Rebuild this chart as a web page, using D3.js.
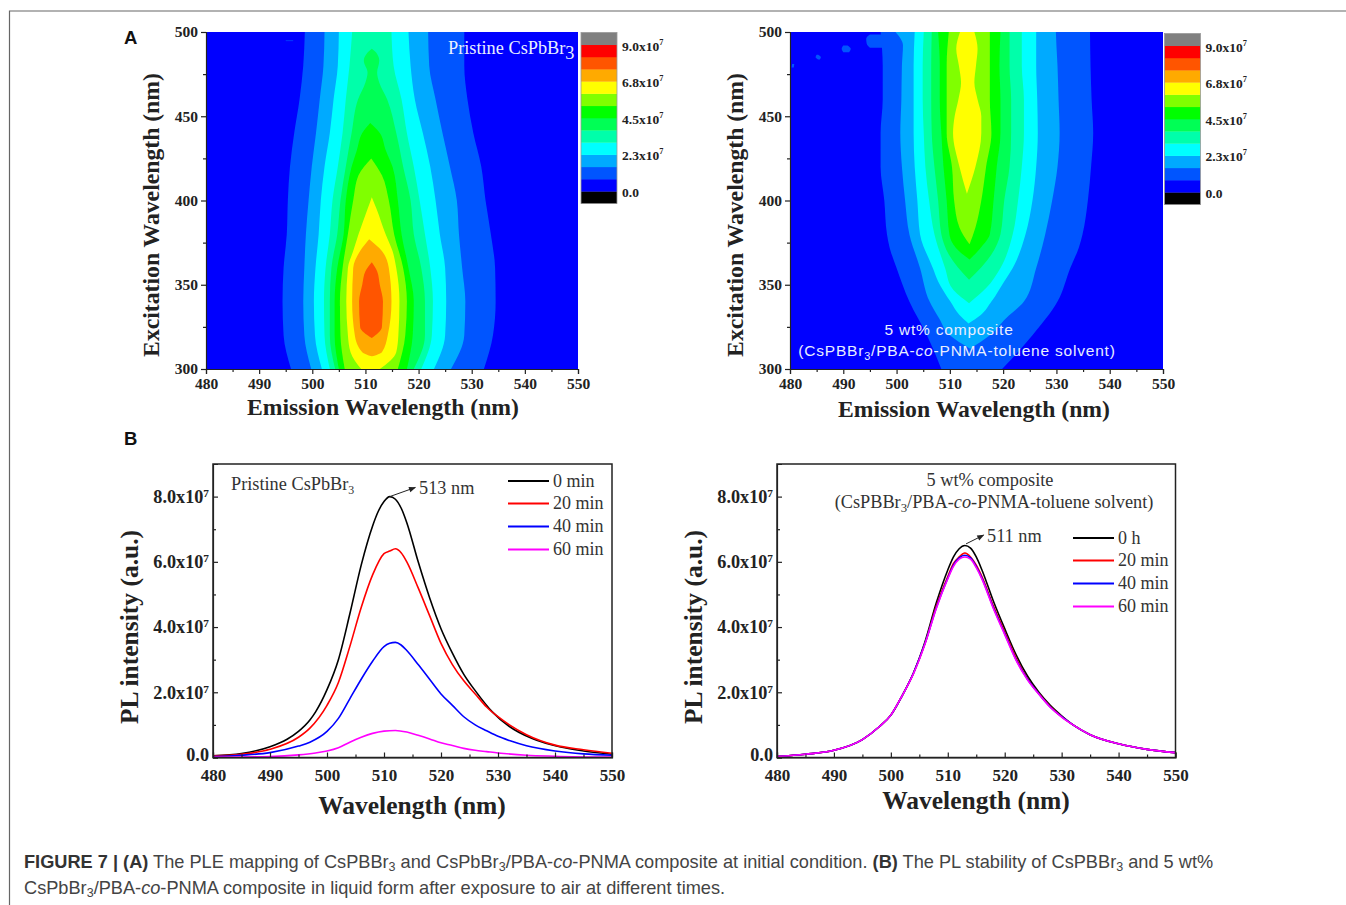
<!DOCTYPE html>
<html>
<head>
<meta charset="utf-8">
<script src="https://cdn.jsdelivr.net/npm/d3@7"></script>
<style>
  html, body { margin: 0; padding: 0; background: #fff; }
  svg { display: block; }
  text { font-family: "Liberation Serif", serif; fill: #222; }
  .tick text { font-weight: bold; fill: #222; }
  .map .tick text { font-size: 15.5px; }
  .spectra .tick text { font-size: 17px; }
  .spectra .y-axis .tick text { font-size: 18.2px; }
  .tick line { stroke: #222; stroke-width: 1.2; }
  .axis-title { font-weight: bold; }
  .map .axis-title { font-size: 23.7px; }
  .spectra .axis-title { font-size: 25.5px; }
  .note { font-size: 18.3px; fill: #333; }
  .legend { font-size: 18px; fill: #333; }
  .bar-label { font-weight: bold; font-size: 13.5px; }
  .caption { font-family: "Liberation Sans", sans-serif; font-size: 18.2px; fill: #444; }
  .caption .strong { font-weight: bold; fill: #333; }
  .panel-letter { font-family: "Liberation Sans", sans-serif; font-weight: bold; font-size: 18.5px; fill: #111; }
  .inset { font-family: "Liberation Sans", sans-serif; font-size: 15.5px; fill: #e8eeff; letter-spacing: 0.8px; }
</style>
</head>
<body>
<script>
"use strict";

// bottom to top of the colour bar
const barColors = ['#000000', '#0000ff', '#0055ff', '#00aaff', '#00ffff', '#00ffaa', '#00ff55',
  '#00ff00', '#80ff00', '#ffff00', '#ffaa00', '#ff5500', '#ff0000', '#808080']
const barLabels = [0, 2.3e7, 4.5e7, 6.8e7, 9e7]

const mapXTicks = [480, 490, 500, 510, 520, 530, 540, 550]
const mapXMinor = [485, 495, 505, 515, 525, 535, 545]
const mapYTicks = [300, 350, 400, 450, 500]
const mapYMinor = [325, 375, 425, 475]
const plYTicks = [0, 2e7, 4e7, 6e7, 8e7]
const plYMinor = [1e7, 3e7, 5e7, 7e7]

// contour bands, one per colour starting at #0055ff: [excitation, left nm, right nm]
const pristineBands = [
  [[300,496,532.3],[320,494.6,534],[340,494.4,534.5],[360,494.6,534.4],[380,495.2,533.6],[400,495.4,532.6],[420,495.8,531.8],[440,496.6,530.3],[460,497.6,529.2],[480,498.3,528.6],[500,498.6,528.6]],
  [[300,499.8,526.1],[320,498.5,528.6],[340,498.3,528.8],[360,498.5,528.2],[380,498.8,527.6],[400,499.3,527.2],[420,499.9,525.9],[440,500.7,524.5],[460,501.4,523.2],[480,502.1,522],[500,502.3,521.8]],
  [[300,501.8,522.9],[320,500.5,525],[340,500.3,525.2],[360,500.6,525],[380,501.2,524],[400,501.6,523.2],[420,502.3,522.2],[440,503.3,520.8],[460,504,519.3],[480,504.8,518.5],[500,505,518.1]],
  [[300,503.3,520.5],[320,502.3,522.5],[340,502.2,522.7],[360,502.5,522.2],[380,503.3,521.2],[400,503.8,520.2],[420,504.8,519.1],[440,505.7,517.8],[460,506.3,516.8],[480,507,515.3],[500,507.5,514.9]],
  [[300,504.3,519.1],[320,503.3,521.2],[340,503.3,521.2],[360,503.6,520.5],[380,504.7,519.1],[400,505.3,518.5],[420,506.3,517.1],[440,507.4,515.8],[460,508.6,514.1],[470,510,512.6],[476,510.4,512.2],[483,509.7,512.6],[487,510.2,512.2],[490,511.2,511.2]],
  [[300,505,517.8],[320,504.2,518.9],[340,504.2,519.1],[360,504.7,518.1],[380,505.9,516.8],[400,506.3,516.1],[420,507.4,515.1],[430,508.4,513.8],[440,509.4,512.7],[446,510.9,510.9]],
  [[300,506.1,516.1],[320,505.3,517.5],[340,505.2,517.8],[360,505.7,517.1],[380,506.7,515.4],[400,507.7,514.4],[415,508.7,513.1],[425,511.1,511.1]],
  [[300,509.2,512.7],[310,507.2,515.8],[320,506.7,516.2],[340,506.4,516.4],[360,506.7,515.8],[370,507.7,515.1],[380,508.7,513.8],[395,510.4,512.1],[402,511.2,511.2]],
  [[307.5,511.2,511.2],[310,509.4,513.1],[320,508,514.2],[340,507.5,514.9],[360,507.7,514.4],[370,509,513.1],[377,510.7,510.7]],
  [[318.4,511.2,511.2],[325,509,513.1],[340,508.8,513.3],[350,509.4,512.7],[358,510,512.2],[363.4,511.2,511.2]],
]
const pristineSpecks = [[[494.6,495,496.4],[495,495,496.4]]]

const compositeBands = [
  [[300,508.4,519.8],[320,505.7,525.5],[340,502.4,530.2],[360,500,532.6],[372,498.7,534.2],[380,498.2,534.9],[400,497.7,535.9],[420,497,536.5],[440,497,536.9],[460,497.4,536.6],[480,497.4,536.4],[500,497,536.3]],
  [[312,513.8,513.8],[320,510,517.5],[330,508,520.5],[340,506.2,523.9],[360,504.4,526.2],[380,502.4,527.9],[400,501.6,529.2],[420,501,530.2],[440,500.7,530.6],[460,500.9,530.4],[480,501,530.2],[492,501.2,530],[500,499.8,529.9]],
  [[327,513.5,513.5],[332,511.8,515.8],[340,510.1,517.8],[352,507.8,520.2],[360,506.8,521.8],[380,504.4,524.2],[400,503.9,525.5],[420,503.4,526.2],[440,503.2,526.5],[460,503.2,526.4],[480,503.2,526.2],[500,503.4,526.2]],
  [[339,513.6,513.6],[348,510.4,516.8],[360,509.1,519.5],[380,507.1,521.8],[400,506.1,522.8],[420,505.4,523.5],[440,505.1,523.9],[460,504.9,523.9],[480,504.9,523.5],[500,505.1,523.5]],
  [[353,513.6,513.6],[368,509.8,517.8],[380,508.4,519.5],[400,507.8,520.2],[420,507.1,521.2],[440,506.6,521.5],[460,506.5,521.5],[480,506.5,521.2],[500,506.6,521.2]],
  [[365,513.7,513.7],[372,511.1,515.8],[380,509.9,517.5],[400,509.4,518.2],[420,508.8,518.8],[440,508.4,519.5],[460,508.1,519.5],[480,508.1,519.3],[500,507.8,519.5]],
  [[374,513.7,513.7],[384,511.8,514.8],[400,510.8,515.9],[420,510.4,516.8],[440,509.4,517.8],[460,509.4,517.5],[480,509.4,517.5],[500,509.8,517.5]],
  [[404,513.2,513.2],[420,511.8,514.8],[440,510.6,515.9],[450,510.9,515.9],[460,511.6,515.2],[470,512.1,514.6],[480,511.7,514.9],[490,511.2,515.2],[500,511.9,514.6]],
]
const compositeSpecks = [
  [[490.6,495,497.5],[493,494.4,497.5],[496,494.3,497.5],[498.5,495,497.5]],
  [[488,490,491.1],[490,489.7,491.4],[492,490,490.8]],
  [[483.7,485.3,485.6],[485,484.8,485.8],[486.5,485,485.3]],
  [[479,480.3,480.7],[481,480.4,480.8]],
]

// spectra: [wavelength, intensity in units of 1e7]
const pristine0 = [[480,.05],[485,.12],[490,.33],[493,.56],[495,.8],[497,1.15],[498,1.4],[500,2.08],[502,3],[504,4.4],[506,5.9],[508,7.1],[509,7.55],[510,7.85],[511,8],[512,7.92],[513,7.65],[514,7.2],[516,6],[518,4.9],[520,3.95],[522,3.2],[524,2.55],[526,2.05],[529,1.4],[532,.95],[536,.58],[541,.32],[545,.2],[550,.1]]
const pristine20 = [[480,.05],[485,.1],[490,.25],[495,.62],[497,.9],[500,1.6],[502,2.3],[504,3.4],[506,4.6],[508,5.6],[510,6.25],[511,6.33],[512,6.4],[513,6.28],[514,6],[516,5.2],[518,4.35],[520,3.5],[522,2.85],[524,2.35],[526,1.95],[528,1.55],[530,1.25],[532,1],[535,.7],[540,.38],[545,.24],[550,.13]]
const pristine40 = [[480,.03],[485,.07],[490,.15],[495,.35],[497,.47],[500,.8],[502,1.2],[504,1.8],[506,2.4],[508,2.95],[510,3.4],[511,3.5],[512,3.53],[513,3.45],[514,3.28],[516,2.85],[518,2.4],[520,1.95],[522,1.6],[524,1.25],[526,1],[528,.82],[530,.65],[532,.52],[535,.36],[540,.2],[545,.11],[550,.07]]
const pristine60 = [[480,.01],[490,.03],[495,.08],[498,.14],[500,.2],[502,.3],[504,.47],[506,.62],[508,.74],[510,.81],[512,.83],[514,.78],[516,.68],[518,.57],[520,.45],[522,.37],[524,.28],[526,.22],[528,.18],[530,.14],[535,.07],[540,.04],[550,.01]]

const composite0 = [[480,.03],[485,.1],[490,.22],[495,.55],[498,.95],[500,1.3],[502,1.9],[504,2.6],[506,3.55],[508,4.75],[510,5.75],[511,6.15],[512,6.4],[513,6.5],[514,6.42],[515,6.15],[516,5.75],[518,4.8],[520,3.95],[522,3.15],[524,2.5],[526,2],[528,1.6],[530,1.28],[532,1],[535,.7],[540,.42],[545,.25],[550,.15]]
const composite20 = [[480,.03],[485,.1],[490,.22],[495,.55],[498,.95],[500,1.3],[502,1.9],[504,2.6],[506,3.5],[508,4.65],[510,5.55],[511,5.95],[512,6.15],[513,6.27],[514,6.15],[515,5.9],[516,5.55],[518,4.65],[520,3.85],[522,3.05],[524,2.42],[526,1.96],[528,1.56],[530,1.25],[532,1],[535,.7],[540,.42],[545,.25],[550,.15]]
const composite40 = [[480,.03],[485,.1],[490,.22],[495,.55],[498,.95],[500,1.3],[502,1.9],[504,2.6],[506,3.5],[508,4.6],[510,5.5],[511,5.9],[512,6.12],[513,6.2],[514,6.12],[515,5.85],[516,5.5],[518,4.6],[520,3.8],[522,3],[524,2.4],[526,1.95],[528,1.55],[530,1.25],[532,1],[535,.7],[540,.42],[545,.25],[550,.15]]
const composite60 = [[480,.03],[485,.1],[490,.22],[495,.55],[498,.95],[500,1.3],[502,1.9],[504,2.58],[506,3.48],[508,4.58],[510,5.48],[511,5.86],[512,6.08],[513,6.15],[514,6.08],[515,5.82],[516,5.47],[518,4.57],[520,3.77],[522,2.98],[524,2.38],[526,1.94],[528,1.54],[530,1.24],[532,1],[535,.7],[540,.42],[545,.25],[550,.15]]

const lineColors = ['#000000', '#ff0000', '#0000ff', '#ff00ff']

const W = 1346
    , H = 905

const svg = d3.select('body').append('svg')
  .attr('width', W)
  .attr('height', H)

svg.append('defs').append('marker')
  .attr('id', 'arrow')
  .attr('viewBox', '0 0 10 10')
  .attr('refX', 9).attr('refY', 5)
  .attr('markerWidth', 9).attr('markerHeight', 7)
  .attr('orient', 'auto')
  .append('path').attr('d', 'M0,1L10,5L0,9z').attr('fill', '#222')

const blur = svg.select('defs').append('filter').attr('id', 'soft')
blur.append('feGaussianBlur').attr('stdDeviation', 0.6)

// outer rule of the page
svg.append('path')
  .attr('d', `M${W},11H9.5V${H}`)
  .attr('fill', 'none')
  .attr('stroke', '#666')
  .attr('stroke-width', 1.2)

function sup(sel, text) {
  sel.append('tspan').attr('dy', -6).attr('font-size', '0.62em').text(text)
}

function sciLabels(g) {
  g.selectAll('.major .tick text').filter(d => d > 0).each(function() {
    sup(d3.select(this), '7')
  })
  // lift the zero so it clears the first x label
  g.selectAll('.major .tick text').filter(d => d === 0).attr('y', -2.5)
}

function axisPair(g, axisFn, scale, majors, minors, size, minorSize, fmt, pad) {
  const major = g.append('g').attr('class', 'major')
    .call(axisFn(scale).tickValues(majors).tickSize(size).tickPadding(pad).tickFormat(fmt))
  const minor = g.append('g').attr('class', 'minor')
    .call(axisFn(scale).tickValues(minors).tickSize(minorSize).tickFormat(''))
  major.select('.domain').attr('stroke', '#222').attr('stroke-width', 1.2)
  minor.select('.domain').remove()
}

function drawMap(p) {
  const x = d3.scaleLinear().domain([480, 550]).range([p.x0, p.x1])
  const y = d3.scaleLinear().domain([300, 500]).range([369, 32])
  const g = svg.append('g').attr('class', 'map')

  const clipId = 'clip' + p.x0
  svg.select('defs').append('clipPath').attr('id', clipId)
    .append('rect').attr('x', p.x0).attr('y', 32).attr('width', p.x1 - p.x0).attr('height', 337)

  const area = d3.area()
    .y(d => y(d[0]))
    .x0(d => x(d[1]))
    .x1(d => x(d[2]))
    .curve(d3.curveMonotoneY)

  const plot = g.append('g').attr('clip-path', `url(#${clipId})`)
  plot.append('rect')
    .attr('x', x(480)).attr('y', y(500))
    .attr('width', x(550) - x(480)).attr('height', y(300) - y(500))
    .attr('fill', barColors[1])

  const soft = plot.append('g').attr('filter', 'url(#soft)')
  soft.selectAll('path.speck').data(p.specks).join('path')
    .attr('class', 'speck')
    .attr('d', area)
    .attr('fill', barColors[2])
  soft.selectAll('path.band').data(p.bands).join('path')
    .attr('class', 'band')
    .attr('d', area)
    .attr('fill', (d, i) => barColors[i + 2])

  axisPair(g.append('g').attr('transform', 'translate(0,369)'), d3.axisBottom, x,
    mapXTicks, mapXMinor, 5, 3, d3.format('d'), 4)
  axisPair(g.append('g').attr('transform', `translate(${p.x0},0)`), d3.axisLeft, y,
    mapYTicks, mapYMinor, 5, 3, d3.format('d'), 3)

  // colour bar
  const bar = d3.scaleBand().domain(d3.range(barColors.length)).range([p.barY + 171, p.barY])
  g.append('g').selectAll('rect').data(barColors).join('rect')
    .attr('x', p.barX).attr('width', 36)
    .attr('y', (d, i) => bar(i)).attr('height', bar.bandwidth() + 0.3)
    .attr('fill', d => d)
  g.append('rect')
    .attr('x', p.barX).attr('y', p.barY).attr('width', 36).attr('height', 171)
    .attr('fill', 'none').attr('stroke', '#999').attr('stroke-width', 0.8)

  const level = d3.scaleLinear().domain([0, 9e7])
    .range([bar(1) + bar.bandwidth(), bar(12)])
  g.append('g').selectAll('text').data(barLabels).join('text')
    .attr('class', 'bar-label')
    .attr('x', p.barX + 41)
    .attr('y', d => level(d) + 6)
    .each(function(d) {
      const t = d3.select(this)
      if (d === 0) { t.text('0.0'); return }
      t.text(`${(d / 1e7).toFixed(1)}x10`)
      sup(t, '7')
    })

  g.append('text').attr('class', 'axis-title')
    .attr('x', p.titleX).attr('y', p.titleY)
    .attr('text-anchor', 'middle').text('Emission Wavelength (nm)')
  g.append('text').attr('class', 'axis-title')
    .attr('transform', `translate(${p.x0 - 47},215) rotate(-90)`)
    .attr('text-anchor', 'middle').text('Excitation Wavelength (nm)')
}

function drawSpectra(p) {
  const x = d3.scaleLinear().domain([480, 550]).range([p.x0, p.x1])
  const y = d3.scaleLinear().domain([0, 9e7]).range([757.5, 464])
  const g = svg.append('g').attr('class', 'spectra')

  const line = d3.line()
    .x(d => x(d[0]))
    .y(d => y(d[1] * 1e7))
    .curve(d3.curveMonotoneX)

  g.selectAll('path.curve').data(p.series).join('path')
    .attr('class', 'curve')
    .attr('d', line)
    .attr('fill', 'none')
    .attr('stroke', (d, i) => lineColors[i])
    .attr('stroke-width', 1.6)

  g.append('rect')
    .attr('x', p.x0).attr('y', 464)
    .attr('width', p.x1 - p.x0).attr('height', 293.5)
    .attr('fill', 'none').attr('stroke', '#222').attr('stroke-width', 1.5)

  axisPair(g.append('g').attr('transform', 'translate(0,757.5)'), d3.axisBottom, x,
    mapXTicks, mapXMinor, -5, -3, d3.format('d'), 11)
  const yAxis = g.append('g').attr('class', 'y-axis').attr('transform', `translate(${p.x0},0)`)
  axisPair(yAxis, d3.axisLeft, y, plYTicks, plYMinor, -5, -3,
    d => d === 0 ? '0.0' : `${(d / 1e7).toFixed(1)}x10`, 4)
  sciLabels(yAxis)

  // legend
  const legend = g.append('g').selectAll('g').data(p.legend).join('g')
  legend.append('line')
    .attr('x1', p.legendX).attr('x2', p.legendX + 41)
    .attr('y1', (d, i) => p.legendY[i]).attr('y2', (d, i) => p.legendY[i])
    .attr('stroke', (d, i) => lineColors[i]).attr('stroke-width', 1.8)
  legend.append('text').attr('class', 'legend')
    .attr('x', p.legendX + 45)
    .attr('y', (d, i) => p.legendY[i] + 5.5)
    .text(d => d)

  g.append('text').attr('class', 'note')
    .attr('x', p.peakX).attr('y', p.peakY).text(p.peakLabel)
  g.append('path')
    .attr('d', d3.line()(p.peakArrow.map(d => [x(d[0]), y(d[1] * 1e7)])))
    .attr('stroke', '#222').attr('fill', 'none').attr('stroke-width', 1)
    .attr('marker-end', 'url(#arrow)')

  g.append('text').attr('class', 'axis-title')
    .attr('x', p.titleX).attr('y', p.titleY)
    .attr('text-anchor', 'middle').text('Wavelength (nm)')
  g.append('text').attr('class', 'axis-title')
    .attr('transform', `translate(${p.x0 - 75},627) rotate(-90)`)
    .attr('text-anchor', 'middle').text('PL intensity (a.u.)')
}

drawMap({
  x0: 206, x1: 578, bands: pristineBands, specks: pristineSpecks,
  barX: 581, barY: 32.5, titleX: 383, titleY: 414.5,
})
drawMap({
  x0: 790, x1: 1163, bands: compositeBands, specks: compositeSpecks,
  barX: 1164.5, barY: 33.5, titleX: 974, titleY: 416.5,
})

drawSpectra({
  x0: 213, x1: 612, series: [pristine0, pristine20, pristine40, pristine60],
  legend: ['0 min', '20 min', '40 min', '60 min'],
  legendX: 508, legendY: [481, 503.5, 526.5, 549.5],
  peakX: 419, peakY: 494, peakLabel: '513 nm',
  peakArrow: [[511, 8], [515.5, 8.28]],
  titleX: 412, titleY: 814,
})
drawSpectra({
  x0: 777, x1: 1175.5, series: [composite0, composite20, composite40, composite60],
  legend: ['0 h', '20 min', '40 min', '60 min'],
  legendX: 1073, legendY: [538, 560.5, 583.5, 606.5],
  peakX: 987, peakY: 542, peakLabel: '511 nm',
  peakArrow: [[513.2, 6.55], [516.3, 6.82]],
  titleX: 976, titleY: 809,
})

function formula(sel, after) {
  sel.append('tspan').text('3').attr('dy', 4).attr('font-size', '0.7em')
  sel.append('tspan').attr('dy', -4).html(after)
}

// notes inside the panels
const note1 = svg.append('text').attr('class', 'note')
  .attr('x', 448).attr('y', 54).style('fill', '#e8f0ff').text('Pristine CsPbBr')
note1.append('tspan').text('3').attr('dy', 5)

const note2 = svg.append('text').attr('class', 'note')
  .attr('x', 231).attr('y', 490).text('Pristine CsPbBr')
note2.append('tspan').text('3').attr('dy', 4).attr('font-size', '0.65em')

svg.append('text').attr('class', 'inset')
  .attr('x', 949).attr('y', 335).attr('text-anchor', 'middle')
  .text('5 wt% composite')
const note3 = svg.append('text').attr('class', 'inset')
  .attr('x', 957).attr('y', 356).attr('text-anchor', 'middle')
  .text('(CsPBBr')
formula(note3, '/PBA-<tspan font-style="italic">co</tspan>-PNMA-toluene solvent)')

svg.append('text').attr('class', 'note')
  .attr('x', 990).attr('y', 486).attr('text-anchor', 'middle')
  .text('5 wt% composite')
const note4 = svg.append('text').attr('class', 'note')
  .attr('x', 994).attr('y', 508).attr('text-anchor', 'middle')
  .text('(CsPBBr')
formula(note4, '/PBA-<tspan font-style="italic">co</tspan>-PNMA-toluene solvent)')

svg.append('text').attr('class', 'panel-letter').attr('x', 124).attr('y', 44).text('A')
svg.append('text').attr('class', 'panel-letter').attr('x', 124).attr('y', 445).text('B')

// caption
const sub3 = '<tspan dy="3" font-size="12.5">3</tspan><tspan dy="-3">'
svg.append('text').attr('class', 'caption').attr('x', 24).attr('y', 868)
  .html(`<tspan class="strong">FIGURE 7 | (A)</tspan> The PLE mapping of CsPBBr${sub3} and CsPbBr</tspan>${sub3}/PBA-<tspan font-style="italic">co</tspan>-PNMA composite at initial condition. <tspan class="strong">(B)</tspan> The PL stability of CsPBBr</tspan>${sub3} and 5 wt%</tspan>`)
svg.append('text').attr('class', 'caption').attr('x', 24).attr('y', 894)
  .html(`CsPbBr${sub3}/PBA-<tspan font-style="italic">co</tspan>-PNMA composite in liquid form after exposure to air at different times.</tspan>`)
</script>
</body>
</html>
